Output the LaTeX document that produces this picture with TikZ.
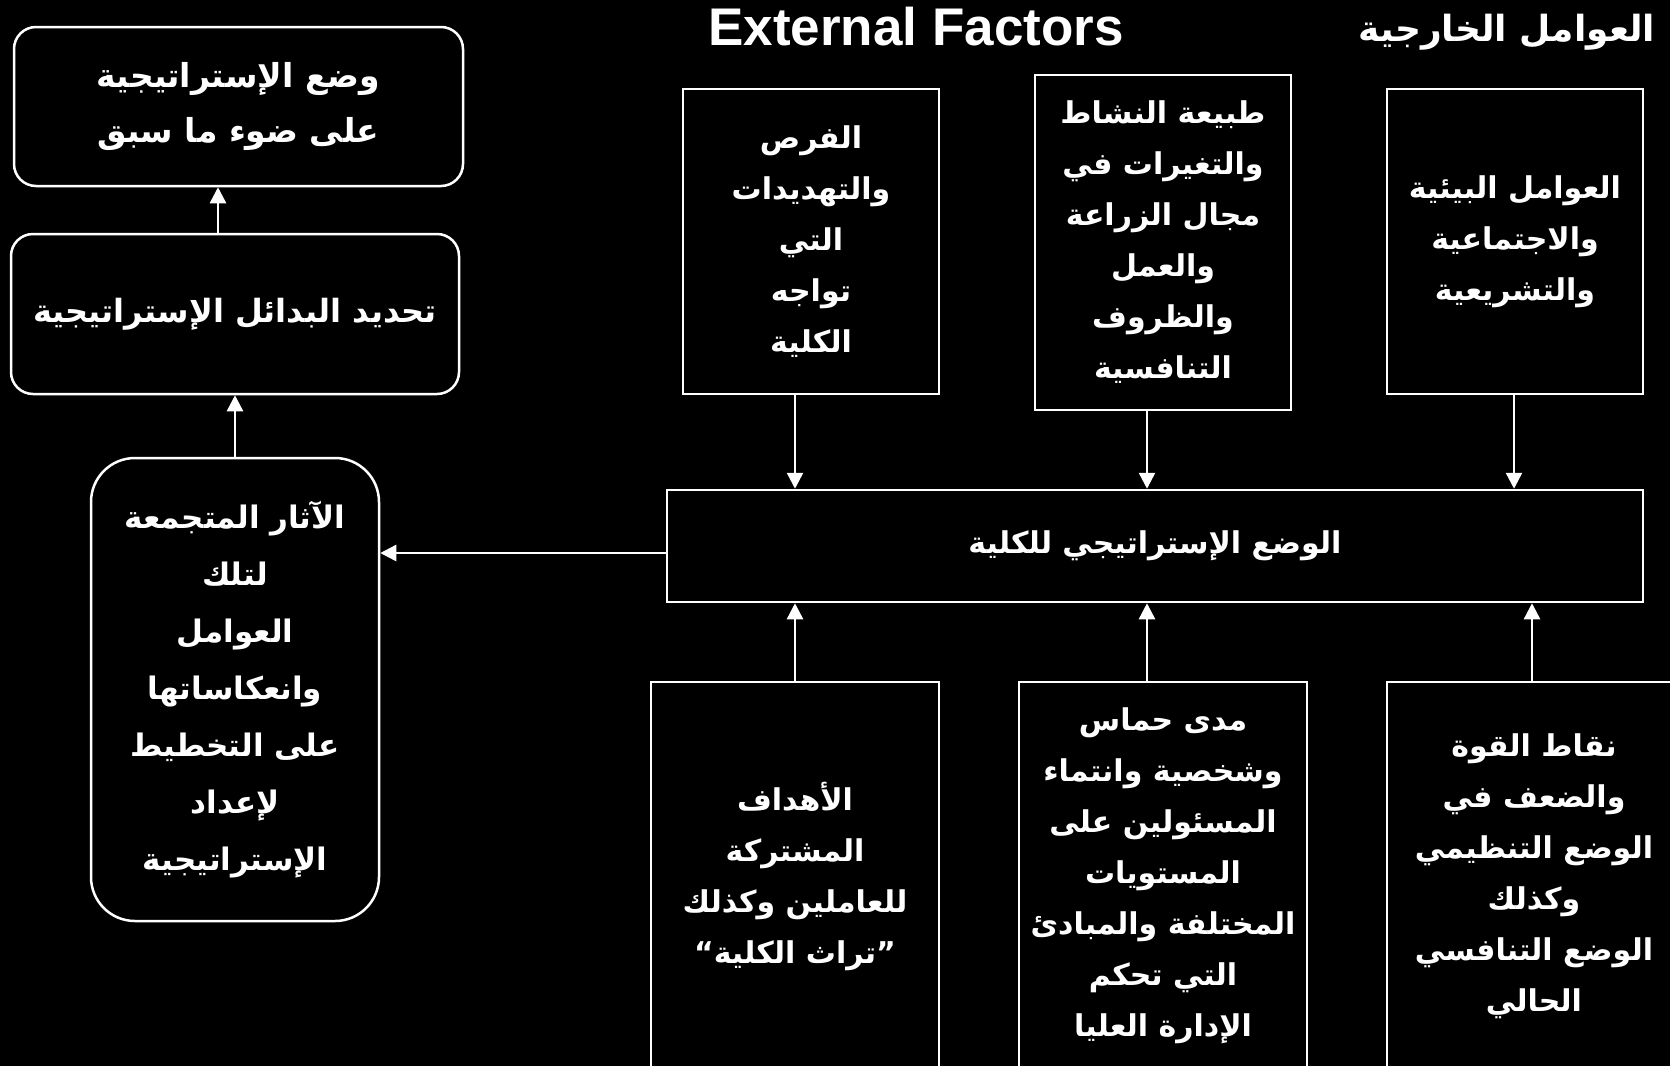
\documentclass[tikz,border=0pt]{standalone}
\usepackage{fontspec}
\setmainfont{Liberation Sans}
\newfontfamily\arabicfont[Script=Arabic]{DejaVu Sans}
\TeXXeTstate=1
\usetikzlibrary{arrows.meta, positioning}
\newcommand{\arl}[1]{\beginR #1\endR}

\begin{document}
\begin{tikzpicture}[x=1pt, y=-1pt,
    stage/.style = {rectangle, draw=white, line width=2.5pt, rounded corners=22pt, align=center, text=white, font=\arabicfont\bfseries\fontsize{30}{51}\selectfont, inner sep=0pt},
    factor/.style = {rectangle, draw=white, line width=2.5pt, align=center, text=white, font=\arabicfont\bfseries\fontsize{30}{51}\selectfont, inner sep=0pt},
    arrow/.style = {draw=white, line width=2.5pt, -{Triangle[width=16pt, length=16pt]}}
]

\fill[black] (0,0) rectangle (1670,1066);
\useasboundingbox (0,0) rectangle (1670,1066);

% Titles
\node (t_en) [text=white, font=\bfseries\fontsize{53}{60}\selectfont] at (916,27) {External Factors};
\node (t_ar) [text=white, font=\arabicfont\bfseries\fontsize{36}{44}\selectfont] at (1507,32) {\arl{العوامل الخارجية}};

% Left column
\node (goal) [stage, minimum width=449, minimum height=159, font=\arabicfont\bfseries\fontsize{33}{55}\selectfont] at (238.5,106.5) {\arl{وضع الإستراتيجية}\\\arl{على ضوء ما سبق}};
\node (alts) [stage, minimum width=448, minimum height=160, font=\arabicfont\bfseries\fontsize{32}{51}\selectfont] at (235,314) {\arl{تحديد البدائل الإستراتيجية}};
\node (effects) [stage, rounded corners=44pt, minimum width=288, minimum height=463, font=\arabicfont\bfseries\fontsize{31}{57}\selectfont] at (235,689.5) {\arl{الآثار المتجمعة}\\\arl{لتلك}\\\arl{العوامل}\\\arl{وانعكاساتها}\\\arl{على التخطيط}\\\arl{لإعداد}\\\arl{الإستراتيجية}};

% External factors
\node (opp) [factor, minimum width=256, minimum height=305] at (811,241.5) {\arl{الفرص}\\\arl{والتهديدات}\\\arl{التي}\\\arl{تواجه}\\\arl{الكلية}};
\node (nature) [factor, minimum width=256, minimum height=335] at (1163,242.5) {\arl{طبيعة النشاط}\\\arl{والتغيرات في}\\\arl{مجال الزراعة}\\\arl{والعمل}\\\arl{والظروف}\\\arl{التنافسية}};
\node (env) [factor, minimum width=256, minimum height=305] at (1515,241.5) {\arl{العوامل البيئية}\\\arl{والاجتماعية}\\\arl{والتشريعية}};

% Strategic position
\node (pos) [factor, minimum width=976, minimum height=112] at (1155,546) {\arl{الوضع الإستراتيجي للكلية}};

% Internal factors
\node (goals) [factor, minimum width=288, minimum height=388] at (795,876) {\arl{الأهداف}\\\arl{المشتركة}\\\arl{للعاملين وكذلك}\\\arl{”تراث الكلية“}};
\node (leaders) [factor, minimum width=288, minimum height=388] at (1163,876) {\arl{مدى حماس}\\\arl{وشخصية وانتماء}\\\arl{المسئولين على}\\\arl{المستويات}\\\arl{المختلفة والمبادئ}\\\arl{التي تحكم}\\\arl{الإدارة العليا}};
\node (strength) [factor, minimum width=294, minimum height=388] at (1534,876) {\arl{نقاط القوة}\\\arl{والضعف في}\\\arl{الوضع التنظيمي}\\\arl{وكذلك}\\\arl{الوضع التنافسي}\\\arl{الحالي}};

\coordinate (c0) at (218,0);
\coordinate (c1) at (795,0);
\coordinate (c2) at (1147,0);
\coordinate (c3) at (1514,0);
\coordinate (c4) at (1532,0);
\coordinate (r0) at (0,553);

\draw [arrow] (opp.south -| c1) -- (pos.north -| c1);
\draw [arrow] (nature.south -| c2) -- (pos.north -| c2);
\draw [arrow] (env.south -| c3) -- (pos.north -| c3);
\draw [arrow] (goals.north -| c1) -- (pos.south -| c1);
\draw [arrow] (leaders.north -| c2) -- (pos.south -| c2);
\draw [arrow] (strength.north -| c4) -- (pos.south -| c4);
\draw [arrow] (pos.west |- r0) -- (effects.east |- r0);
\draw [arrow] (effects.north) -- (alts.south);
\draw [arrow] (alts.north -| c0) -- (goal.south -| c0);

\end{tikzpicture}
\end{document}
